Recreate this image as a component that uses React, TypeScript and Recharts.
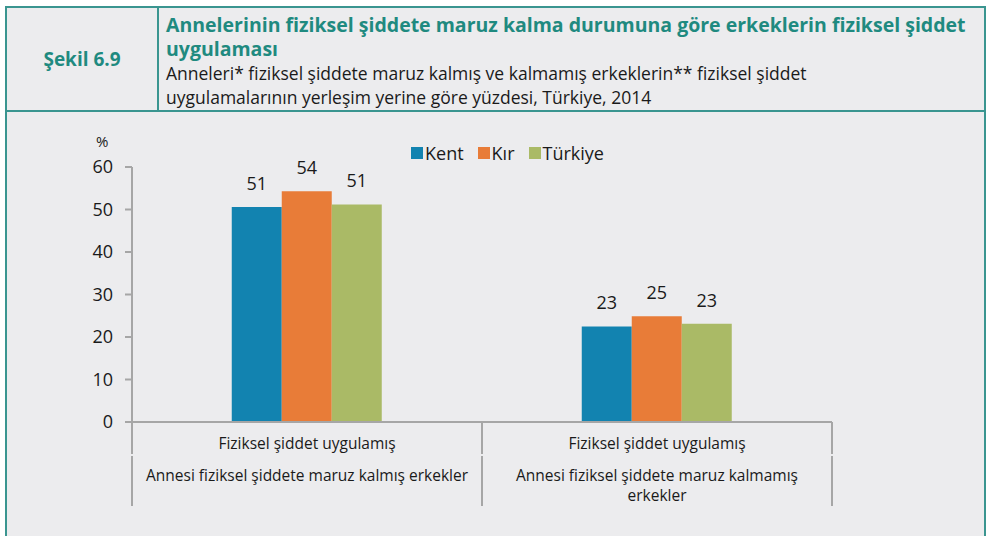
import { Bar, BarChart, LabelList, XAxis, YAxis } from "recharts";

const groupKeys = ["kalmis", "kalmamis"];
const innerLabels = ["Fiziksel şiddet uygulamış", "Fiziksel şiddet uygulamış"];
const outerLabels = [
  ["Annesi fiziksel şiddete maruz kalmış erkekler"],
  ["Annesi fiziksel şiddete maruz kalmamış", "erkekler"],
];
const kent = [50.6, 22.5];
const kir = [54.3, 24.9];
const turkiye = [51.2, 23.1];
const yTicks = [0, 10, 20, 30, 40, 50, 60];

const seriesNames = ["Kent", "Kır", "Türkiye"];
const seriesKeys = ["kent", "kir", "turkiye"];
const SERIES_COLORS = ["#1283B0", "#E87C38", "#AABA66"];

const TEAL = "#1F8A80";
const BORDER = "#3A9590";
const BG = "#ECECEE";
const AXIS = "#A6A6A6";
const FONT = "'Open Sans', 'DejaVu Sans', sans-serif";

const data = groupKeys.map((group, i) => ({
  group,
  kent: kent[i],
  kir: kir[i],
  turkiye: turkiye[i],
}));

const CHART_W = 988;
const CHART_H = 425;

// two-level category tick with Excel-like divider lines
function GroupTick(props: any) {
  const { x, y, payload } = props;
  const idx = payload.index ?? 0;
  const half = payload.offset ?? 175;
  const lines = outerLabels[idx] ?? [];
  return (
    <g>
      <line x1={x - half} x2={x - half} y1={y} y2={y + 32} stroke={AXIS} strokeWidth={2} />
      <line x1={x + half} x2={x + half} y1={y} y2={y + 32} stroke={AXIS} strokeWidth={2} />
      <text x={x} y={y + 27} textAnchor="middle" fontSize={15.5} fontFamily={FONT} fill="#1a1a1a">
        {innerLabels[idx]}
      </text>
      <line x1={x - half} x2={x - half} y1={y + 34} y2={y + 84} stroke={AXIS} strokeWidth={2} />
      <line x1={x + half} x2={x + half} y1={y + 34} y2={y + 84} stroke={AXIS} strokeWidth={2} />
      {lines.map((line, i) => (
        <text
          key={i}
          x={x}
          y={y + 59 + i * 20}
          textAnchor="middle"
          fontSize={15.5}
          fontFamily={FONT}
          fill="#1a1a1a"
        >
          {line}
        </text>
      ))}
    </g>
  );
}

export default function App() {
  return (
    <div
      style={{
        position: "relative",
        width: 988,
        height: 536,
        background: "#fff",
        overflow: "hidden",
        fontFamily: FONT,
      }}
    >
      <style>{`body{margin:0}`}</style>

      {/* header box */}
      <div
        style={{
          position: "absolute",
          left: 5,
          top: 6,
          width: 981,
          height: 106,
          boxSizing: "border-box",
          border: `2px solid ${BORDER}`,
          background: BG,
        }}
      >
        <div
          style={{
            position: "absolute",
            left: 0,
            top: 0,
            width: 150,
            height: 102,
            borderRight: `2px solid ${BORDER}`,
            display: "flex",
            alignItems: "center",
            justifyContent: "center",
            color: TEAL,
            fontWeight: 700,
            fontSize: 19,
          }}
        >
          Şekil 6.9
        </div>
        <div style={{ position: "absolute", left: 159, top: 5, whiteSpace: "nowrap", lineHeight: "24px" }}>
          <div style={{ color: TEAL, fontWeight: 700, fontSize: 19.5 }}>
            Annelerinin fiziksel şiddete maruz kalma durumuna göre erkeklerin fiziksel şiddet
          </div>
          <div style={{ color: TEAL, fontWeight: 700, fontSize: 19.5 }}>uygulaması</div>
          <div style={{ color: "#1a1a1a", fontSize: 17.5 }}>
            Anneleri* fiziksel şiddete maruz kalmış ve kalmamış erkeklerin** fiziksel şiddet
          </div>
          <div style={{ color: "#1a1a1a", fontSize: 17.5 }}>
            uygulamalarının yerleşim yerine göre yüzdesi, Türkiye, 2014
          </div>
        </div>
      </div>

      {/* chart box */}
      <div
        style={{
          position: "absolute",
          left: 5,
          top: 112,
          width: 981,
          height: 440,
          boxSizing: "border-box",
          borderLeft: `2px solid ${BORDER}`,
          borderRight: `2px solid ${BORDER}`,
          background: BG,
        }}
      />

      <div style={{ position: "absolute", left: 0, top: 111 }}>
        <BarChart
          width={CHART_W}
          height={CHART_H}
          data={data}
          margin={{ top: 56, right: 156, bottom: 24, left: 0 }}
          barCategoryGap="28.5%"
          barGap={0}
        >
          <YAxis
            width={132}
            domain={[0, 60]}
            ticks={yTicks}
            interval={0}
            axisLine={{ stroke: AXIS, strokeWidth: 2 }}
            tickLine={{ stroke: AXIS, strokeWidth: 2 }}
            tickSize={7}
            tickMargin={12}
            tick={{ fontSize: 18, fontFamily: FONT, fill: "#1a1a1a" }}
          />
          <XAxis
            dataKey="group"
            height={90}
            interval={0}
            axisLine={{ stroke: AXIS, strokeWidth: 2 }}
            tickLine={false}
            tickSize={0}
            tickMargin={0}
            tick={<GroupTick />}
          />
          {seriesKeys.map((key, i) => (
            <Bar key={key} dataKey={key} name={seriesNames[i]} fill={SERIES_COLORS[i]} isAnimationActive={false}>
              <LabelList
                dataKey={key}
                position="top"
                offset={17}
                formatter={(v: any) => Math.round(Number(v))}
                style={{ fontSize: 18, fontFamily: FONT, fill: "#1a1a1a" }}
              />
            </Bar>
          ))}
        </BarChart>
      </div>

      {/* axis unit */}
      <div style={{ position: "absolute", left: 96, top: 131, fontSize: 15, color: "#1a1a1a" }}>%</div>

      {/* legend */}
      <div
        style={{
          position: "absolute",
          left: 411,
          top: 141,
          display: "flex",
          alignItems: "center",
          fontSize: 18,
          color: "#1a1a1a",
        }}
      >
        {seriesNames.map((name, i) => (
          <div key={name} style={{ display: "flex", alignItems: "center", marginRight: 14 }}>
            <span
              style={{
                display: "inline-block",
                width: 12,
                height: 12,
                background: SERIES_COLORS[i],
                marginRight: 2,
              }}
            />
            <span>{name}</span>
          </div>
        ))}
      </div>
    </div>
  );
}
